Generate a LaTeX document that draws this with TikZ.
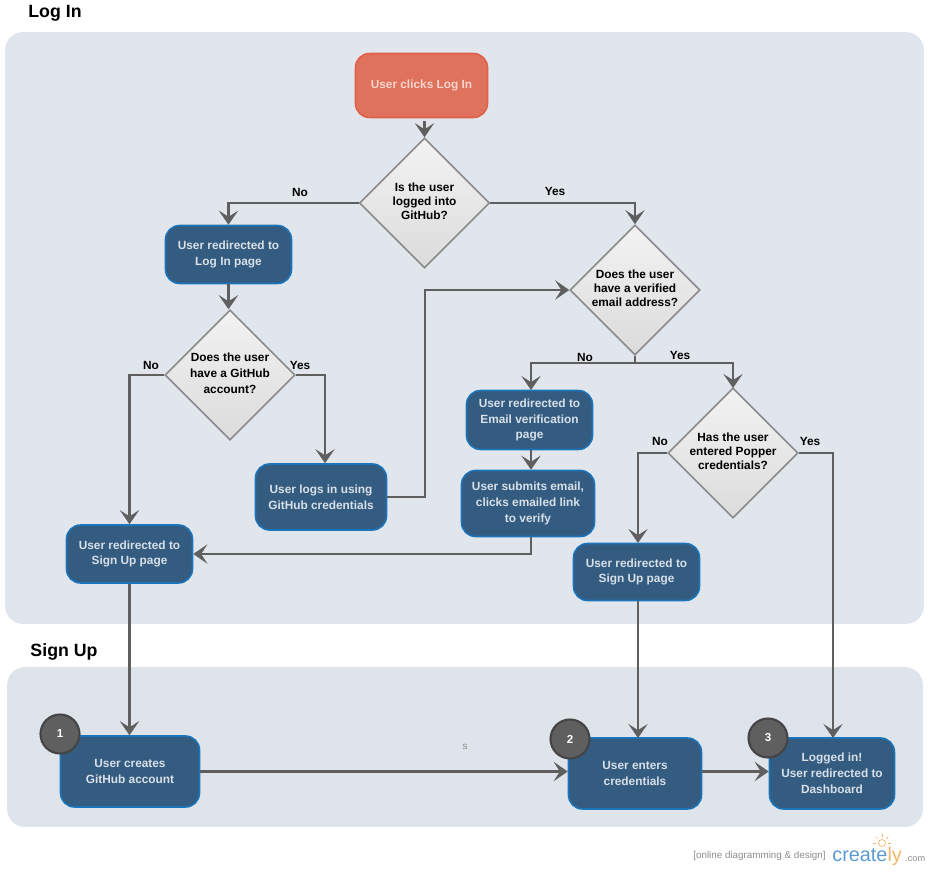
\documentclass[tikz,border=0pt]{standalone}
\usepackage{fontspec}
\setmainfont{Liberation Sans}
\usetikzlibrary{arrows.meta,positioning,shapes.geometric}
\definecolor{panel}{HTML}{E1E6ED}
\definecolor{panelb}{HTML}{DFE3EA}
\definecolor{ink}{HTML}{000000}
\definecolor{navy}{HTML}{345B80}
\definecolor{navyline}{HTML}{1B75BB}
\definecolor{boxtext}{HTML}{D8E0E8}
\definecolor{coral}{HTML}{DF725C}
\definecolor{coralline}{HTML}{E0604A}
\definecolor{coraltext}{HTML}{F6D5CD}
\definecolor{line}{HTML}{5F5F5F}
\definecolor{dline}{HTML}{8A8A8A}
\definecolor{badge}{HTML}{5F5F5F}
\definecolor{badgeline}{HTML}{444444}
\definecolor{logoblue}{HTML}{5C9BD1}
\definecolor{logoamber}{HTML}{F2B66B}
\definecolor{muted}{HTML}{8C8C8C}

\begin{document}
\begin{tikzpicture}[
  x=0.02cm, y=-0.02cm,
  panelbox/.style={rounded corners=0.36cm, draw=none},
  box/.style={rounded corners=0.28cm, draw=navyline, line width=0.9pt, fill=navy,
    align=center, text=boxtext, inner sep=0pt,
    font=\fontsize{6.75}{9}\selectfont\bfseries},
  startbox/.style={box, draw=coralline, fill=coral, text=coraltext},
  decision/.style={diamond, draw=dline, line width=0.9pt, top color=white!95!black,
    bottom color=white!86!black, minimum width=2.6cm, minimum height=2.6cm, inner sep=0pt,
    align=center, text=ink, text depth=2pt, font=\fontsize{6.75}{8}\selectfont\bfseries},
  title/.style={font=\fontsize{10.1}{12}\selectfont\bfseries, text=ink},
  small/.style={font=\fontsize{6.75}{8}\selectfont\bfseries, text=ink},
  badgenode/.style={circle, draw=badgeline, line width=1.2pt, fill=badge, minimum size=0.78cm,
    inner sep=0pt, text=white, font=\fontsize{6.6}{8}\selectfont\bfseries},
  arrow/.style={-{Stealth[length=8pt,width=11pt,inset=3.5pt]}, line width=1.3pt, draw=line},
  plain/.style={line width=1.3pt, draw=line},
  ray/.style={draw=logoamber, line width=0.4pt}
]
\useasboundingbox (0,0) rectangle (930,872);

\node[panelbox, fill=panel, minimum width=18.38cm, minimum height=11.84cm] (loginpanel) at (464.5,328) {};
\node[panelbox, fill=panelb, minimum width=18.32cm, minimum height=3.2cm] (signuppanel) at (465,747) {};
\node[title] (logintitle) at (55,13.5) {Log In};
\node[title] (signuptitle) at (64,651.5) {Sign Up};

\node[startbox, minimum width=2.64cm, minimum height=1.28cm] (start) at (421.5,85.5) {User clicks Log In};
\node[decision] (d1) at (424.5,203) {Is the user\\logged into\\GitHub?};
\node[decision] (d2) at (635,290) {Does the user\\have a verified\\email address?};
\node[decision, font=\fontsize{6.75}{9}\selectfont\bfseries] (d3) at (230,375) {Does the user\\have a GitHub\\account?};
\node[decision] (d4) at (733,453) {Has the user\\entered Popper\\credentials?};

\node[box, minimum width=2.52cm, minimum height=1.16cm] (loginpage) at (228.5,254.5) {User redirected to\\Log In page};
\node[box, minimum width=2.62cm, minimum height=1.32cm] (ghlogin) at (321,497) {User logs in using\\GitHub credentials};
\node[box, minimum width=2.52cm, minimum height=1.16cm] (signup1) at (129.5,554) {User redirected to\\Sign Up page};
\node[box, minimum width=2.52cm, minimum height=1.18cm] (email) at (529.5,420) {User redirected to\\Email verification\\page};
\node[box, minimum width=2.66cm, minimum height=1.32cm] (submit) at (528,503.5) {User submits email,\\clicks emailed link\\to verify};
\node[box, minimum width=2.52cm, minimum height=1.14cm] (signup2) at (636.5,572) {User redirected to\\Sign Up page};

\node[box, minimum width=2.78cm, minimum height=1.42cm] (creates) at (130,771.5) {User creates\\GitHub account};
\node[box, minimum width=2.66cm, minimum height=1.42cm] (enters) at (635,773.5) {User enters\\credentials};
\node[box, minimum width=2.5cm, minimum height=1.42cm] (done) at (832,773.5) {Logged in!\\User redirected to\\Dashboard};

\node[badgenode] (b1) at (60,734) {1};
\node[badgenode] (b2) at (570,739) {2};
\node[badgenode] (b3) at (768,738) {3};

\coordinate (split) at (635,363);
\coordinate (emailin) at (531,390);
\coordinate (passin) at (733,388);
\coordinate (rise) at (425,291);
\coordinate (pagein) at (638,543);
\coordinate (pageout) at (638,601);
\coordinate (entersin) at (638,738);
\coordinate (donein) at (833,738);

\draw[arrow] ([yshift=-0.06cm]start.south -| d1.north) -- (d1.north);
\draw[arrow] (d1.west) -| (loginpage.north);
\draw[arrow] (d1.east) -| (d2.north);
\draw[arrow] (loginpage.south) -- (loginpage.south |- d3.north);
\draw[arrow] (d3.west) -| (signup1.north);
\draw[arrow] (d3.east) -| ([xshift=0.08cm]ghlogin.north);
\draw[arrow] (ghlogin.east) -| (rise |- d2.west) -- (d2.west);
\draw[plain] (d2.south) -- (split);
\draw[arrow] (split) -| (emailin);
\draw[arrow] (split) -| (passin);
\draw[arrow] (emailin |- email.south) -- (emailin |- submit.north);
\draw[arrow] (emailin |- submit.south) |- (signup1.east);
\draw[arrow] (d4.west) -| (pagein);
\draw[arrow] (d4.east) -| (donein);
\draw[arrow] (signup1.south) -- (signup1.south |- creates.north);
\draw[arrow] (pageout) -- (entersin);
\draw[arrow] (creates.east) -- (creates.east -| enters.west);
\draw[arrow] (enters.east |- creates.east) -- (creates.east -| done.west);

\node[small] (no1) at (300,192) {No};
\node[small] (yes1) at (555,191) {Yes};
\node[small] (no3) at (151,365) {No};
\node[small] (yes3) at (300,365) {Yes};
\node[small] (no2) at (585,357) {No};
\node[small] (yes2) at (680,355) {Yes};
\node[small] (no4) at (660,441) {No};
\node[small] (yes4) at (810,441) {Yes};
\node[text=muted, font=\fontsize{5.6}{7}\selectfont] (stray) at (465,747) {s};

\node[text=muted, font=\fontsize{5.6}{7}\selectfont] (tag) at (759.5,856) {[online diagramming \& design]};
\node[text=logoblue, font=\fontsize{11.3}{13}\selectfont, inner sep=0pt, anchor=base west] (logo) at (832,861) {create\textcolor{logoamber}{ly}};
\node[text=muted, font=\fontsize{5.2}{7}\selectfont, inner sep=0pt, anchor=base west] (dotcom) at (905,861) {.com};
\node[circle, draw=logoamber, line width=0.4pt, minimum size=0.14cm, inner sep=0pt] (bulb) at (882,843) {};
\foreach \ang in {180,225,270,315,0}
  \draw[ray] ([shift={(\ang:6)}]bulb.center) -- ([shift={(\ang:9)}]bulb.center);
\end{tikzpicture}
\end{document}
